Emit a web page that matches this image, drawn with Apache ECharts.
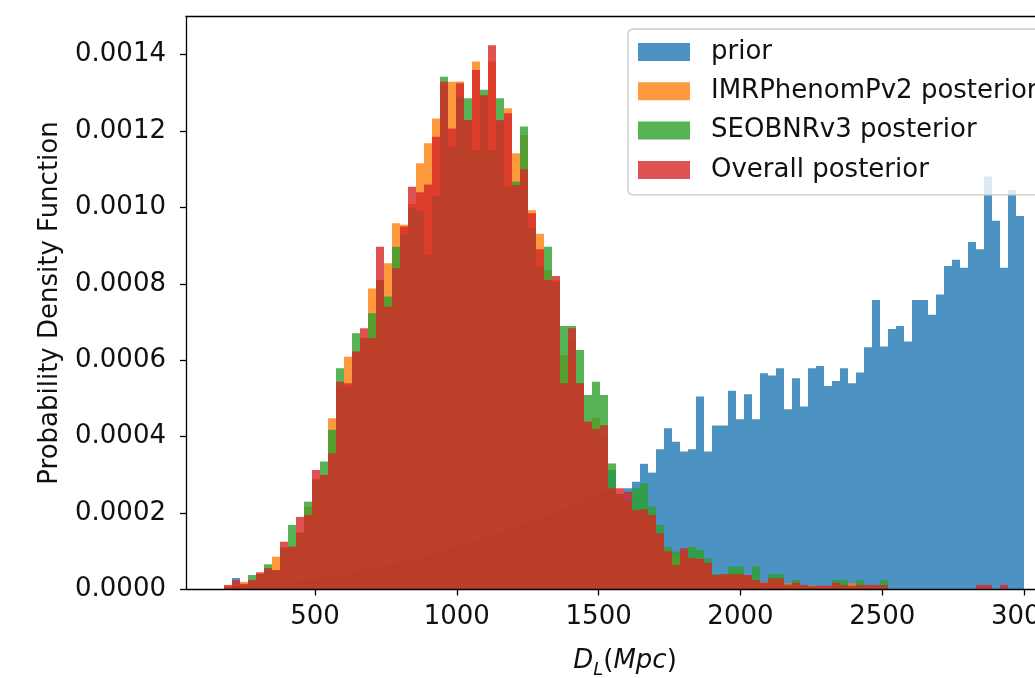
<!DOCTYPE html>
<html>
<head>
<meta charset="utf-8">
<script src="https://cdn.jsdelivr.net/npm/echarts@6/dist/echarts.min.js"></script>
<style>
html,body{margin:0;padding:0;overflow:hidden;background:#fff;width:1035px;height:678px}
#c{width:1100px;height:678px}
</style>
</head>
<body>
<div id="c"></div>
<script>
// Histogram bins (Mpc): 100 bins from binStart with width binWidth
const binStart = 180;
const binWidth = 28.2;
const valueUnit = 1e-4;   // values below are in units of 1e-4

const prior = [
  0.04,0.3,0.07,0.09,0.1,0.12,0.15,0.17,0.2,0.22,
  0.25,0.28,0.31,0.35,0.39,0.42,0.46,0.5,0.55,0.59,
  0.64,0.69,0.74,0.79,0.84,0.9,0.96,1.01,1.08,1.14,
  1.2,1.27,1.33,1.41,1.48,1.55,1.62,1.7,1.78,1.86,
  1.94,2.02,2.11,2.2,2.29,2.38,2.47,2.56,3.13,2.5,
  2.65,2.82,3.29,3.06,3.67,4.22,3.87,3.61,3.67,5.05,
  3.61,4.29,4.29,5.2,4.46,5.11,4.46,5.66,5.6,5.79,
  4.72,5.53,4.79,5.79,5.85,5.33,5.46,5.79,5.4,5.68,
  6.34,7.58,6.36,6.82,6.9,6.49,7.58,7.58,7.19,7.72,
  8.47,8.63,8.42,9.1,8.91,10.81,9.65,8.42,10.46,9.78
];
const imrPhenom = [
  0.08,0.15,0.2,0.2,0.4,0.5,0.86,1.1,1.12,1.5,
  2.17,2.9,3.0,4.48,5.3,6.09,6.23,6.6,7.88,8.1,
  8.54,9.59,9.55,10.1,11.16,11.68,12.33,13.2,13.29,13.3,
  12.29,13.82,12.94,13.82,12.2,12.6,11.42,11.9,9.93,9.31,
  8.36,8.1,6.14,6.5,5.4,4.3,4.5,4.0,2.65,2.5,
  2.3,2.08,2.0,1.95,1.47,1.0,0.9,0.95,0.82,0.8,
  0.6,0.38,0.38,0.4,0.4,0.35,0.25,0.18,0.25,0.25,
  0.16,0.15,0.1,0.1,0.08,0.08,0.1,0.1,0.16,0.08,
  0.08,0.05,0.05,0,0,0,0,0,0,0,
  0,0,0,0,0,0,0,0,0,0
];
const seobnr = [
  0.05,0.1,0.12,0.38,0.4,0.66,0.5,1.1,1.69,1.48,
  2.3,2.87,3.35,4.18,5.79,5.3,6.71,6.58,7.23,8.1,
  7.67,8.97,9.3,10.0,9.9,8.76,10.3,13.42,11.59,12.9,
  12.86,11.5,13.08,11.5,12.86,10.54,10.68,12.12,9.45,8.45,
  8.97,8.05,6.9,6.9,6.27,5.09,5.44,5.09,3.3,2.5,
  2.3,2.65,2.78,2.17,1.69,1.12,0.99,0.99,1.12,1.04,
  0.82,0.4,0.4,0.6,0.6,0.35,0.6,0.15,0.4,0.4,
  0.1,0.25,0.1,0.08,0.05,0.05,0.25,0.25,0.05,0.25,
  0.05,0.05,0.25,0,0,0,0,0,0,0,
  0,0,0,0,0,0,0,0,0,0
];
const overall = [
  0.12,0.25,0.15,0.25,0.45,0.56,0.51,1.25,1.12,1.9,
  1.95,3.13,3.0,3.57,5.44,5.4,6.23,6.84,6.58,8.97,
  7.4,8.41,9.5,10.54,10.4,10.6,11.85,13.29,12.07,13.25,
  12.29,13.6,12.94,14.25,12.29,12.47,10.59,11.0,9.85,8.91,
  8.1,8.21,5.4,6.84,5.4,4.4,4.2,4.3,2.65,2.65,
  2.56,2.08,2.1,1.95,1.47,1.0,0.64,1.08,0.82,0.8,
  0.7,0.38,0.4,0.4,0.4,0.38,0.25,0.18,0.29,0.29,
  0.13,0.18,0.12,0.08,0.1,0.1,0.18,0.12,0.1,0.12,
  0.12,0.12,0.12,0,0,0,0,0,0,0,
  0,0,0,0,0.12,0.12,0,0.12,0,0
];

const seriesNames = ['prior', 'IMRPhenomPv2 posterior', 'SEOBNRv3 posterior', 'Overall posterior'];
const xTicks = [500, 1000, 1500, 2000, 2500, 3000];
const yTicks = [0, 0.0002, 0.0004, 0.0006, 0.0008, 0.0010, 0.0012, 0.0014];

const colors = ['rgba(31,119,180,0.8)', 'rgba(255,127,14,0.8)', 'rgba(44,160,44,0.8)', 'rgba(214,39,40,0.8)'];
const FONT = 'DejaVu Sans';
const TXT = '#111';

function histSeries(name, values, color) {
  const data = values.map((v, i) => [binStart + i * binWidth, binStart + (i + 1) * binWidth, v * valueUnit]);
  return {
    name: name,
    type: 'custom',
    coordinateSystem: 'cartesian2d',
    xAxisIndex: 0,
    yAxisIndex: 0,
    data: data,
    encode: { x: [0, 1], y: 2 },
    itemStyle: { color: color },
    silent: true,
    renderItem: function (params, api) {
      const h = api.value(2);
      if (!(h > 0)) return null;
      const a = api.coord([api.value(0), h]);
      const b = api.coord([api.value(1), 0]);
      const x0 = Math.round(a[0]), x1 = Math.round(b[0]);
      return {
        type: 'rect',
        shape: { x: x0, y: a[1], width: x1 - x0, height: b[1] - a[1] },
        style: { fill: color }
      };
    }
  };
}

const allValues = [prior, imrPhenom, seobnr, overall];
const chart = echarts.init(document.getElementById('c'), null, { renderer: 'canvas' });
const axisLineStyle = { color: '#000', width: 1.3 };

chart.setOption({
  animation: false,
  textStyle: { fontFamily: FONT },
  grid: { left: 186, top: 16.5, width: 878, height: 573, containLabel: false, outerBoundsMode: 'none' },
  legend: {
    orient: 'vertical',
    left: 628,
    top: 29,
    padding: [10, 12, 12, 10],
    itemGap: 13.3,
    itemWidth: 52,
    itemHeight: 18,
    icon: 'rect',
    selectedMode: false,
    backgroundColor: 'rgba(255,255,255,0.8)',
    borderColor: '#cccccc',
    borderWidth: 1.3,
    borderRadius: 5,
    textStyle: { fontFamily: FONT, fontSize: 26, color: TXT, lineHeight: 26, padding: [0, 0, 0, 16] },
    data: seriesNames.map((n, i) => ({ name: n, itemStyle: { color: colors[i] } }))
  },
  xAxis: [{
    type: 'value',
    position: 'bottom',
    min: 45,
    max: 3141,
    z: 10,
    axisLine: { show: true, onZero: false, lineStyle: axisLineStyle },
    axisTick: { show: true, length: 6, customValues: xTicks, lineStyle: axisLineStyle },
    axisLabel: { customValues: xTicks, margin: 15, fontSize: 26, fontFamily: FONT, color: TXT,
      formatter: v => String(v) },
    splitLine: { show: false },
    name: '{it|D}{sub|L}{up|(}{it|Mpc}{up|)}',
    nameLocation: 'middle',
    nameGap: 60,
    nameTextStyle: {
      rich: {
        it: { fontFamily: FONT, fontStyle: 'italic', fontSize: 26, color: TXT, lineHeight: 30, verticalAlign: 'bottom', padding: [0, 0, 5, 0] },
        up: { fontFamily: FONT, fontSize: 26, color: TXT, lineHeight: 30, verticalAlign: 'bottom', padding: [0, 0, 5, 0] },
        sub: { fontFamily: FONT, fontStyle: 'italic', fontSize: 18, color: TXT, lineHeight: 18, verticalAlign: 'bottom' }
      }
    }
  }, {
    type: 'value',
    position: 'top',
    min: 45,
    max: 3141,
    z: 10,
    axisLine: { show: true, onZero: false, lineStyle: axisLineStyle },
    axisTick: { show: false },
    axisLabel: { show: false },
    splitLine: { show: false }
  }],
  yAxis: [{
    type: 'value',
    position: 'left',
    min: 0,
    max: 0.0015,
    z: 10,
    axisLine: { show: true, onZero: false, lineStyle: axisLineStyle },
    axisTick: { show: true, length: 6, customValues: yTicks, lineStyle: axisLineStyle },
    axisLabel: { customValues: yTicks, margin: 20, fontSize: 26, fontFamily: FONT, color: TXT,
      formatter: v => v.toFixed(4) },
    splitLine: { show: false },
    name: 'Probability Density Function',
    nameLocation: 'middle',
    nameGap: 123,
    nameTextStyle: { fontFamily: FONT, fontSize: 26, color: TXT }
  }, {
    type: 'value',
    position: 'right',
    min: 0,
    max: 0.0015,
    z: 10,
    axisLine: { show: true, onZero: false, lineStyle: axisLineStyle },
    axisTick: { show: false },
    axisLabel: { show: false },
    splitLine: { show: false }
  }],
  series: allValues.map((vals, i) => histSeries(seriesNames[i], vals, colors[i]))
});
</script>
</body>
</html>
